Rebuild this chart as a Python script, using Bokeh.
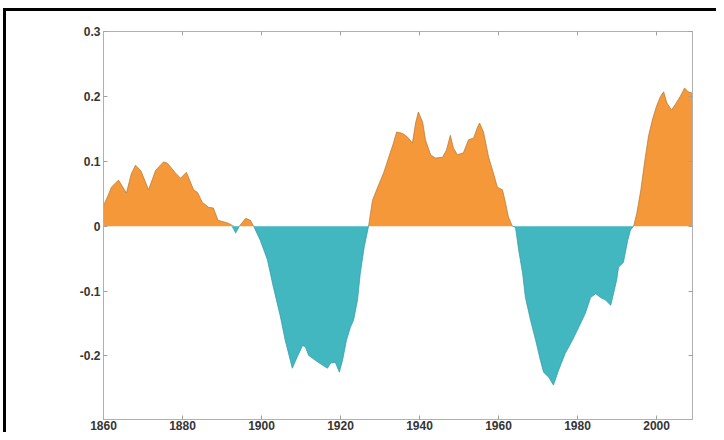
import numpy as np
from bokeh.plotting import figure
from bokeh.models import LinearAxis, FixedTicker, Range1d
from bokeh.embed import file_html
from bokeh.resources import INLINE

years = [1860, 1861, 1862, 1863.8, 1865.8, 1867, 1868.1, 1869.5, 1871.4, 1873.2,
         1875.2, 1876.2, 1878.2, 1879.5, 1881, 1882.8, 1883.8, 1885, 1886.6, 1887.8,
         1889, 1891.4, 1892.4, 1893.4, 1894.4, 1896, 1897.2, 1898, 1899.7, 1901.5,
         1903, 1904.8, 1906, 1907.3, 1907.8, 1909, 1910.4, 1911.1, 1911.9, 1913.7,
         1915.4, 1916.7, 1917.5, 1918.7, 1919.7, 1920.5, 1921.5, 1922.5, 1923.3, 1924.3,
         1925, 1926, 1927.1, 1928.1, 1929.4, 1930.9, 1932.2, 1933.4, 1934.2, 1935.7,
         1937, 1938.2, 1939, 1939.7, 1940.8, 1941.5, 1942.8, 1944, 1945.8, 1946.8,
         1947.8, 1948.6, 1949.6, 1951.1, 1952.4, 1953.7, 1954.7, 1955.2, 1956.2, 1957.5,
         1958.7, 1959.7, 1961, 1961.8, 1962.5, 1963.5, 1964.3, 1965.1, 1966.1, 1966.8,
         1968.1, 1969.4, 1970.6, 1971.4, 1972.7, 1973.9, 1975.2, 1976.9, 1978.7, 1980.3,
         1982, 1983.3, 1984.6, 1985.8, 1987.1, 1988.4, 1989.1, 1989.9, 1990.4, 1991.6,
         1992.7, 1993.4, 1994.2, 1995, 1996, 1997, 1998, 1999, 2000, 2001,
         2001.8, 2002.6, 2003.8, 2005, 2006, 2007.1, 2008, 2009.1]
values = [0.032, 0.045, 0.060, 0.071, 0.051, 0.080, 0.094, 0.085, 0.056, 0.086,
          0.099, 0.097, 0.082, 0.074, 0.083, 0.056, 0.052, 0.037, 0.029, 0.028,
          0.009, 0.005, 0.002, -0.011, 0.0, 0.012, 0.009, 0.0, -0.022, -0.052,
          -0.094, -0.140, -0.176, -0.207, -0.219, -0.202, -0.184, -0.186, -0.199, -0.207,
          -0.214, -0.219, -0.211, -0.210, -0.225, -0.207, -0.176, -0.156, -0.145, -0.114,
          -0.073, -0.032, 0.0, 0.040, 0.060, 0.082, 0.106, 0.128, 0.145, 0.143,
          0.137, 0.128, 0.159, 0.176, 0.160, 0.133, 0.110, 0.105, 0.106, 0.117,
          0.140, 0.120, 0.110, 0.113, 0.133, 0.136, 0.153, 0.159, 0.145, 0.106,
          0.082, 0.060, 0.056, 0.035, 0.014, 0.0, -0.002, -0.037, -0.073, -0.110,
          -0.145, -0.176, -0.207, -0.225, -0.233, -0.245, -0.222, -0.196, -0.176, -0.156,
          -0.134, -0.110, -0.104, -0.110, -0.114, -0.122, -0.104, -0.083, -0.063, -0.056,
          -0.022, -0.006, 0.0, 0.020, 0.055, 0.100, 0.140, 0.165, 0.185, 0.200,
          0.207, 0.190, 0.179, 0.190, 0.200, 0.213, 0.207, 0.205]

x_ticks = [1860, 1880, 1900, 1920, 1940, 1960, 1980, 2000]
y_ticks = [-0.2, -0.1, 0, 0.1, 0.2, 0.3]
y_labels = ["-0.2", "-0.1", "0", "0.1", "0.2", "0.3"]

ORANGE = "#F4983A"
TEAL = "#42B7BF"

x = np.array(years)
v = np.array(values)
pos = np.maximum(v, 0)
neg = np.minimum(v, 0)
pos_line = np.where(v >= 0, v, np.nan)
neg_line = np.where(v <= 0, v, np.nan)

frame_bg = ("linear-gradient(#000, #000) 3px 8px / 3px 100% no-repeat, "
            "linear-gradient(#000, #000) 3px 8px / 100% 3px no-repeat, #ffffff")

p = figure(width=716, height=432, output_backend="svg", toolbar_location=None,
           x_range=Range1d(1860, 2009.1), y_range=Range1d(-0.298, 0.3),
           min_border_left=103, min_border_right=24, min_border_top=31, min_border_bottom=13,
           background_fill_color="white", border_fill_alpha=0,
           styles={"background": frame_bg})
p.grid.visible = False
p.outline_line_color = "#b0b0b0"
p.outline_line_width = 1

p.varea(x=x, y1=0, y2=pos, fill_color=ORANGE)
p.varea(x=x, y1=0, y2=neg, fill_color=TEAL)
p.line(x, pos_line, line_color="#b87530", line_width=1, line_alpha=0.7)
p.line(x, neg_line, line_color="#2e9aa2", line_width=1, line_alpha=0.7)

def style_axis(ax):
    ax.axis_line_color = "#b0b0b0"
    ax.major_tick_line_color = "#a0a0a0"
    ax.major_tick_in = 4
    ax.major_tick_out = 0
    ax.minor_tick_line_color = None
    ax.major_label_text_font = "Liberation Sans"
    ax.major_label_text_font_style = "bold"
    ax.major_label_text_font_size = "12px"
    ax.major_label_text_color = "#353535"
    ax.major_label_standoff = 1

xa = p.xaxis[0]
xa.ticker = FixedTicker(ticks=x_ticks)
style_axis(xa)
ya = p.yaxis[0]
ya.ticker = FixedTicker(ticks=y_ticks)
ya.major_label_overrides = {t: l for t, l in zip(y_ticks, y_labels)}
style_axis(ya)
ya.major_label_standoff = 3

top = LinearAxis(ticker=FixedTicker(ticks=x_ticks),
                 major_label_overrides={t: "" for t in x_ticks})
style_axis(top)
top.major_label_standoff = 0
p.add_layout(top, "above")
right = LinearAxis(ticker=FixedTicker(ticks=y_ticks),
                   major_label_overrides={t: "" for t in y_ticks})
style_axis(right)
right.major_label_standoff = 0
p.add_layout(right, "right")

open("out.html", "w").write(file_html(p, INLINE))
